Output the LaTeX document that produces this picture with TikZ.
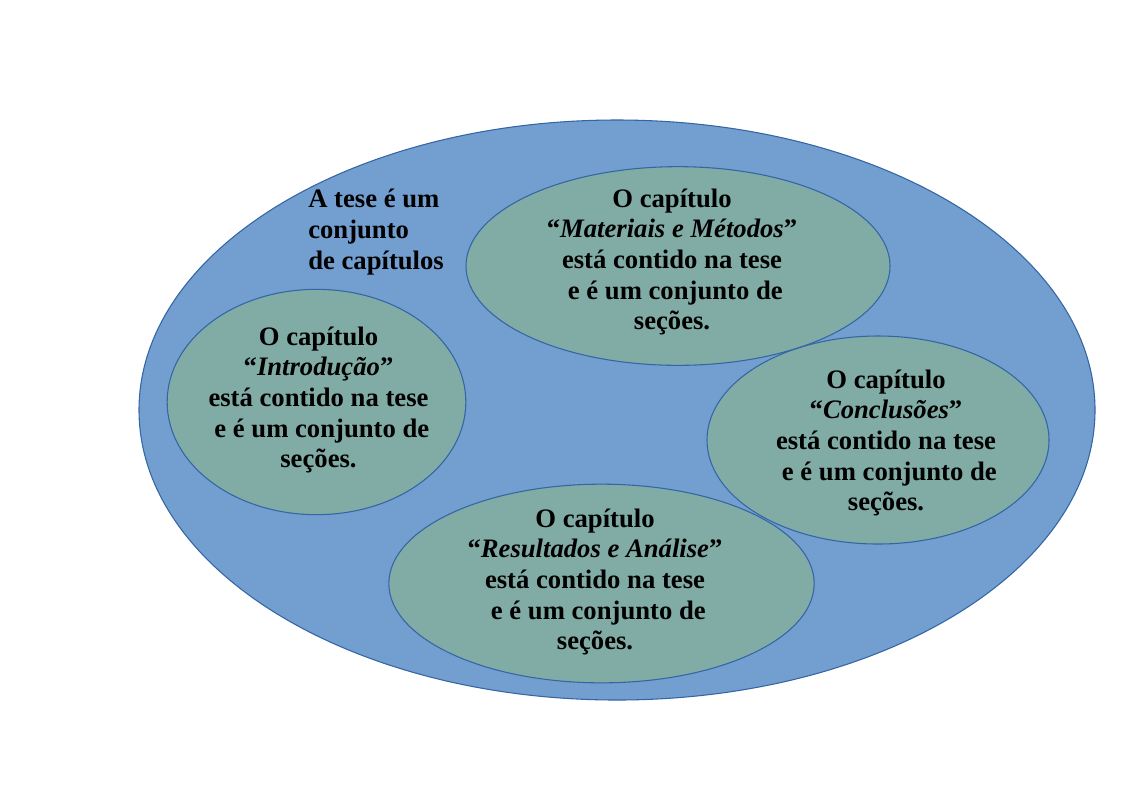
\documentclass[tikz,border=0pt]{standalone}
\usepackage{fontspec}
\setmainfont{Liberation Serif}
\usetikzlibrary{shapes.geometric}
\definecolor{bigfill}{HTML}{729FCF}
\definecolor{edgeblue}{HTML}{3465A4}
\definecolor{chapfill}{HTML}{81ACA6}
\begin{document}
\begin{tikzpicture}[x=0.75pt,y=-0.75pt,
  ell/.style={ellipse,inner sep=0pt,outer sep=0pt},
  bigell/.style={ell,fill=bigfill,draw=edgeblue,line width=0.8pt},
  chapell/.style={ell,fill=chapfill},
  chapedge/.style={ell,draw=edgeblue,line width=0.8pt},
  txt/.style={align=center,inner sep=0pt,font=\fontsize{20}{23}\selectfont\bfseries,text=black},
  title/.style={align=left,inner sep=0pt,font=\fontsize{20}{23}\selectfont\bfseries,text=black,anchor=west}
]
\useasboundingbox (0,0) rectangle (1123,794);
\fill[white] (0,0) rectangle (1123,794);
% thesis
\node[bigell,minimum width=717pt,minimum height=435pt] (tese) at (617,410) {};
% chapter fills
\node[chapell,minimum width=318pt,minimum height=149pt] (mat) at (678,266) {};
\node[chapell,minimum width=224pt,minimum height=169pt] (intro) at (316.5,402) {};
\node[chapell,minimum width=256.5pt,minimum height=156pt] (concl) at (878,440) {};
\node[chapell,minimum width=319pt,minimum height=149pt] (res) at (601.5,583.5) {};
% chapter borders
\node[chapedge,minimum width=318pt,minimum height=149pt] (matb) at (mat.center) {};
\node[chapedge,minimum width=224pt,minimum height=169pt] (introb) at (intro.center) {};
\node[chapedge,minimum width=256.5pt,minimum height=156pt] (conclb) at (concl.center) {};
\node[chapedge,minimum width=319pt,minimum height=149pt] (resb) at (res.center) {};
% texts
\node[title] (ttese) at (308,232) {A tese é um\\conjunto\\de capítulos};
\node[txt] (tmat) at (672,262) {O capítulo\\“\textit{Materiais e Métodos}”\\está contido na tese\\\hspace*{0.25em}e é um conjunto de\\seções.};
\node[txt] (tintro) at (318.5,400) {O capítulo\\“\textit{Introdução}”\\está contido na tese\\\hspace*{0.25em}e é um conjunto de\\seções.};
\node[txt] (tconcl) at (886,443) {O capítulo\\“\textit{Conclusões}”\\está contido na tese\\\hspace*{0.25em}e é um conjunto de\\seções.};
\node[txt] (tres) at (595,582) {O capítulo\\“\textit{Resultados e Análise}”\\está contido na tese\\\hspace*{0.25em}e é um conjunto de\\seções.};
\end{tikzpicture}
\end{document}
